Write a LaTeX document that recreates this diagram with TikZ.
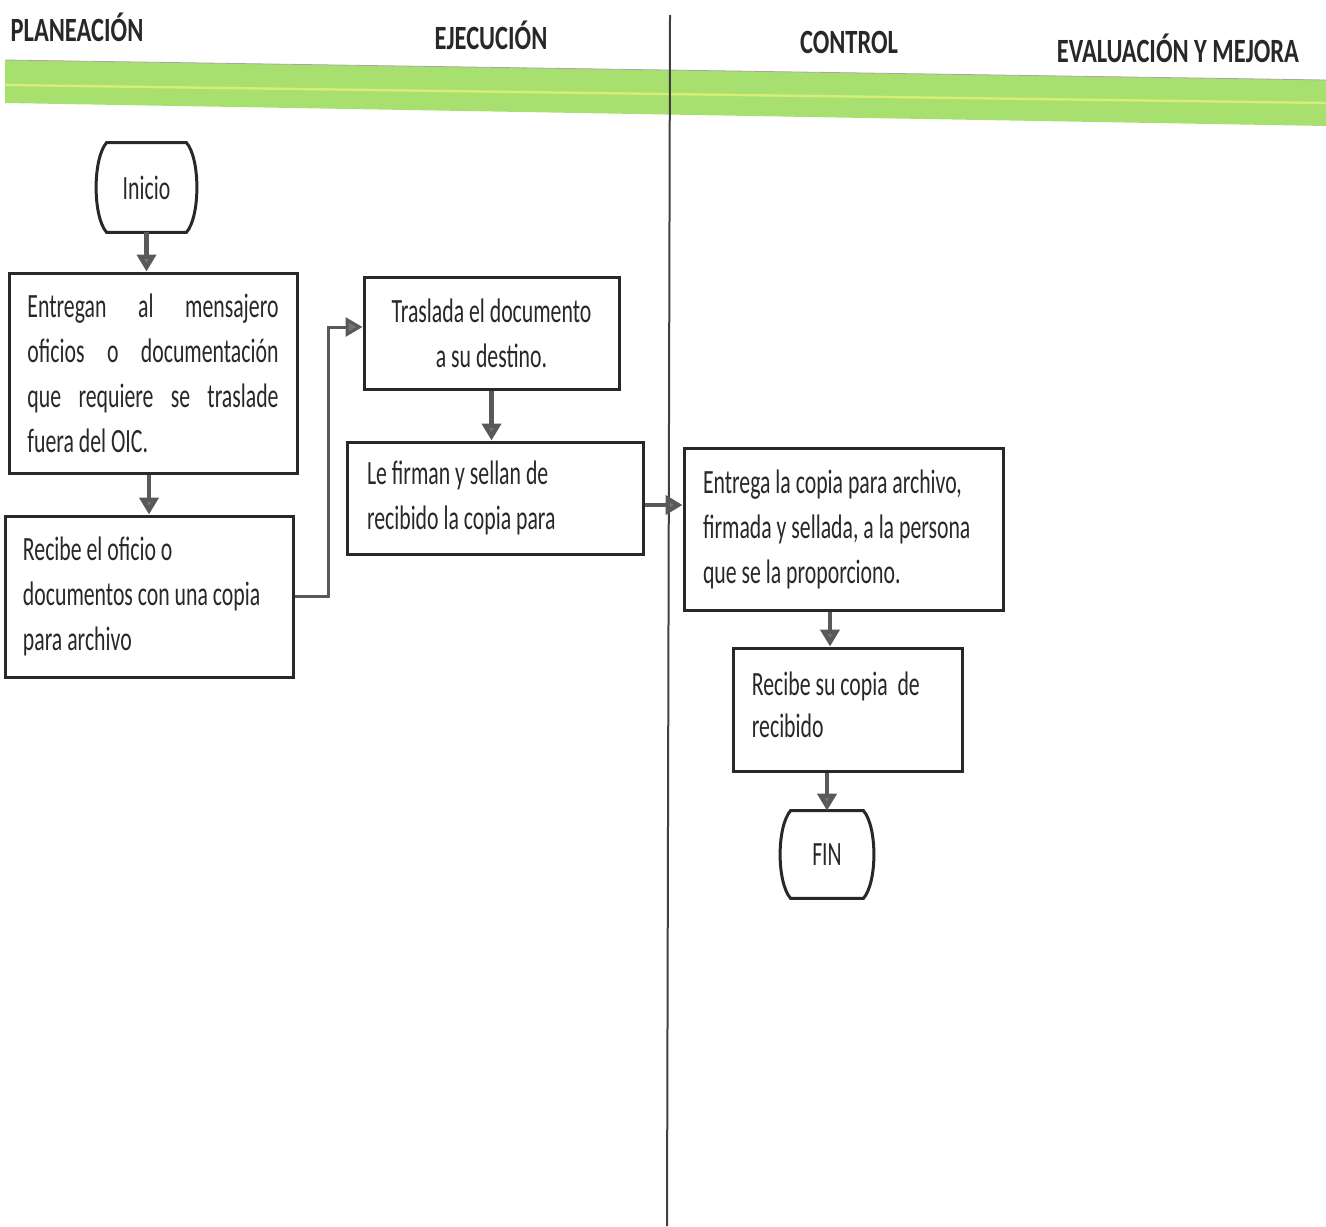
\documentclass[tikz,border=0pt]{standalone}
\usepackage{fontspec}
\setmainfont{Carlito}
\usetikzlibrary{calc,arrows.meta}
\definecolor{bandgreen}{RGB}{168,224,112}
\definecolor{bandline}{RGB}{214,238,120}
\definecolor{ink}{RGB}{40,40,40}
% condensed text block: glyphs narrowed to 64 %
\newcommand\sqbox[2]{\scalebox{0.64}[1]{\parbox{#1}{\raggedright #2}}}
\newcommand\sqcenter[2]{\scalebox{0.64}[1]{\parbox{#1}{\centering #2}}}
\newcommand\jl[1]{\makebox[\linewidth][s]{#1}}
\newcommand\hd[1]{\scalebox{0.72}[1]{#1}}
\begin{document}
\begin{tikzpicture}[x=0.5pt,y=-0.5pt,
  txt/.style={font=\fontsize{17}{22.5}\selectfont, text=ink},
  head/.style={font=\fontsize{17}{20}\selectfont\bfseries, text=ink},
  stepbox/.style={txt, draw=ink, line width=1.5pt, fill=white, inner sep=0pt},
  term/.style={txt, inner sep=0pt},
  termline/.style={draw=ink, line width=1.5pt},
  flow/.style={draw=black!65, line width=2.2pt, -{Triangle[length=8.5pt,width=9.5pt,fill=black!55]}},
  divider/.style={draw=black!75, line width=1pt}]

% page frame
\useasboundingbox (0,0) rectangle (1326,1226);

% phase band
\fill[bandgreen] (5,60) -- (1326,80) -- (1326,126) -- (5,103) -- cycle;
\draw[black!35, line width=0.4pt] (5,60) -- (1326,80);
\draw[bandline, line width=1.2pt] (5,85) -- (1326,103);

% lane divider
\draw[divider] (670,15) -- (667,1226);

% phase titles
\node[head] (hplan) at (77,27) {\hd{PLANEACIÓN}};
\node[head] (hejec) at (491,35) {\hd{EJECUCIÓN}};
\node[head] (hctrl) at (849,42) {\hd{CONTROL}};
\node[head] (heval) at (1178,48) {\hd{EVALUACIÓN Y MEJORA}};

% terminals
\node[term, minimum width=49.5pt, minimum height=44.5pt] (inicio) at (146.5,187.5) {\sqcenter{60pt}{Inicio}};
\node[term, minimum width=46pt, minimum height=43.5pt] (fin) at (827,854.5) {\sqcenter{60pt}{FIN}};
\foreach \t in {inicio,fin}{
  \draw[termline]
    ($(\t.north west)+(10,0)$) -- ($(\t.north east)+(-10,0)$)
    .. controls ($(\t.north east)+(4,16)$) and ($(\t.south east)+(4,-16)$) .. ($(\t.south east)+(-10,0)$)
    -- ($(\t.south west)+(10,0)$)
    .. controls ($(\t.south west)+(-4,-16)$) and ($(\t.north west)+(-4,16)$) .. cycle;
}

% process steps
\node[stepbox, minimum width=144pt, minimum height=100pt] (b1) at (153,373)
  {\sqbox{196.1pt}{\jl{Entregan al mensajero}\\
   \jl{oficios o documentación}\\
   \jl{que requiere se traslade}\\
   fuera del OIC.}};
\node[stepbox, minimum width=144pt, minimum height=80.5pt] (b2) at (149,596.5)
  {\sqbox{196.9pt}{Recibe el oficio o\\ documentos con una copia\\ para archivo}};
\node[stepbox, minimum width=127.5pt, minimum height=56pt] (b3) at (491.5,333)
  {\sqcenter{190pt}{Traslada el documento\\ a su destino.}};
\node[stepbox, minimum width=148pt, minimum height=56pt] (b4) at (495,498)
  {\sqbox{200pt}{Le firman y sellan de\\ recibido la copia para}};
\node[stepbox, minimum width=159.5pt, minimum height=81pt] (b5) at (843.5,529)
  {\sqbox{219.5pt}{Entrega la copia para archivo,\\ firmada y sellada, a la persona\\ que se la proporciono.}};
\node[stepbox, minimum width=114.5pt, minimum height=61.5pt] (b6) at (847.5,709.5) {};
\node[txt, inner sep=0pt, anchor=west] (b6t) at ($(b6.west)+(20,-5)$)
  {\sqbox{147.7pt}{\fontsize{17}{21}\selectfont Recibe su copia~ de\\ recibido}};

% connectors
\coordinate (elb) at (328,327);
\coordinate (col5) at (830,0);
\coordinate (row45) at (0,505);
\draw[flow] (inicio.south) -- (inicio.south |- b1.north);
\draw[flow] (b2.north |- b1.south) -- (b2.north);
\draw[flow, line width=1.5pt] (b2.east) -| (elb) -- (elb -| b3.west);
\draw[flow] (b3.south) -- (b3.south |- b4.north);
\draw[flow] (row45 -| b4.east) -- (row45 -| b5.west);
\draw[flow] (col5 |- b5.south) -- (col5 |- b6.north);
\draw[flow] (fin.north |- b6.south) -- (fin.north);
\end{tikzpicture}
\end{document}
